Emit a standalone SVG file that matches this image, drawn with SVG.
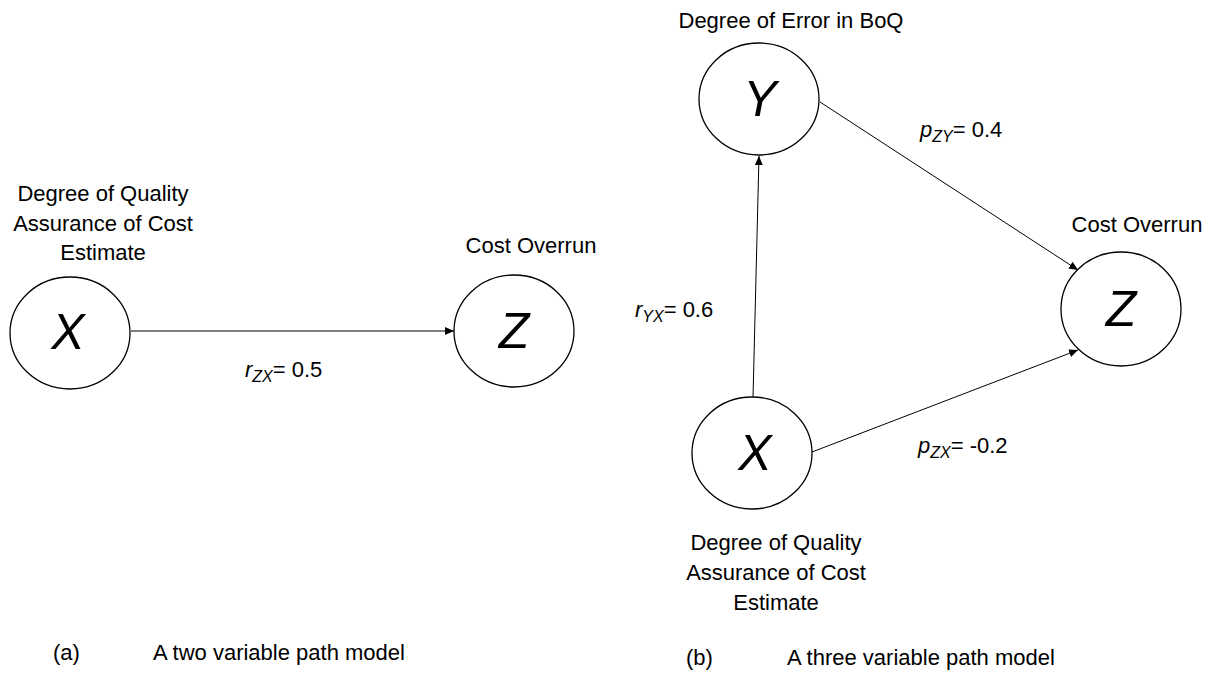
<svg xmlns="http://www.w3.org/2000/svg" width="1215" height="673" viewBox="0 0 1215 673">
<style>
  .node { fill: #ffffff; stroke: #000000; stroke-width: 1.3; }
  .sym { font-family: "Liberation Sans", Arial, sans-serif; font-style: italic; font-size: 50px; fill: #000; text-anchor: middle; }
  .lbl { font-family: "Liberation Sans", Arial, sans-serif; font-size: 22px; fill: #000; }
  .mid { text-anchor: middle; }
  .it { font-style: italic; }
  .sub { font-style: italic; font-size: 16px; }
  .edge { stroke: #000; stroke-width: 1; fill: none; marker-end: url(#arr); }
</style>
<defs>
  <marker id="arr" markerUnits="userSpaceOnUse" markerWidth="10" markerHeight="8" refX="9" refY="4" orient="auto">
    <path d="M0,0 L9,4 L0,8 Z" fill="#000"/>
  </marker>
</defs>
<rect width="1215" height="673" fill="#ffffff"/>

<g id="connectors">
  <line class="edge" x1="131" y1="331" x2="454" y2="331"/>
  <line class="edge" x1="753" y1="397" x2="759" y2="156"/>
  <line class="edge" x1="820" y1="102" x2="1078" y2="270"/>
  <line class="edge" x1="812" y1="452" x2="1078" y2="350"/>
</g>

<g id="node-a-x">
  <ellipse class="node" cx="70" cy="333" rx="60" ry="56"/>
  <text class="sym" x="68" y="349">X</text>
  <text class="lbl mid" x="103" y="201">Degree of Quality</text>
  <text class="lbl mid" x="103" y="231">Assurance of Cost</text>
  <text class="lbl mid" x="103" y="260">Estimate</text>
</g>

<g id="node-a-z">
  <ellipse class="node" cx="514" cy="331" rx="60" ry="56"/>
  <text class="sym" x="514" y="348">Z</text>
  <text class="lbl mid" x="531" y="253">Cost Overrun</text>
</g>

<g id="label-rzx">
  <text class="lbl" x="245" y="377"><tspan class="it">r</tspan><tspan class="sub" dy="5">ZX</tspan><tspan dy="-5">= 0.5</tspan></text>
</g>

<g id="node-b-y">
  <ellipse class="node" cx="759" cy="99" rx="60" ry="56"/>
  <text class="sym" x="760" y="116">Y</text>
  <text class="lbl mid" x="791" y="28">Degree of Error in BoQ</text>
</g>

<g id="node-b-z">
  <ellipse class="node" cx="1121" cy="309" rx="60" ry="57"/>
  <text class="sym" x="1121" y="326">Z</text>
  <text class="lbl mid" x="1137" y="232">Cost Overrun</text>
</g>

<g id="node-b-x">
  <ellipse class="node" cx="752" cy="453" rx="60" ry="56"/>
  <text class="sym" x="755" y="470">X</text>
  <text class="lbl mid" x="776" y="550">Degree of Quality</text>
  <text class="lbl mid" x="776" y="580">Assurance of Cost</text>
  <text class="lbl mid" x="776" y="610">Estimate</text>
</g>

<g id="label-pzy">
  <text class="lbl" x="920" y="137"><tspan class="it">p</tspan><tspan class="sub" dy="5">ZY</tspan><tspan dy="-5">= 0.4</tspan></text>
</g>
<g id="label-ryx">
  <text class="lbl" x="635" y="317"><tspan class="it">r</tspan><tspan class="sub" dy="5">YX</tspan><tspan dy="-5">= 0.6</tspan></text>
</g>
<g id="label-pzx">
  <text class="lbl" x="918" y="453"><tspan class="it">p</tspan><tspan class="sub" dy="5">ZX</tspan><tspan dy="-5">= -0.2</tspan></text>
</g>

<g id="captions">
  <text class="lbl" x="53" y="660">(a)</text>
  <text class="lbl" x="153" y="660">A two variable path model</text>
  <text class="lbl" x="686" y="665">(b)</text>
  <text class="lbl" x="787" y="665">A three variable path model</text>
</g>
</svg>
